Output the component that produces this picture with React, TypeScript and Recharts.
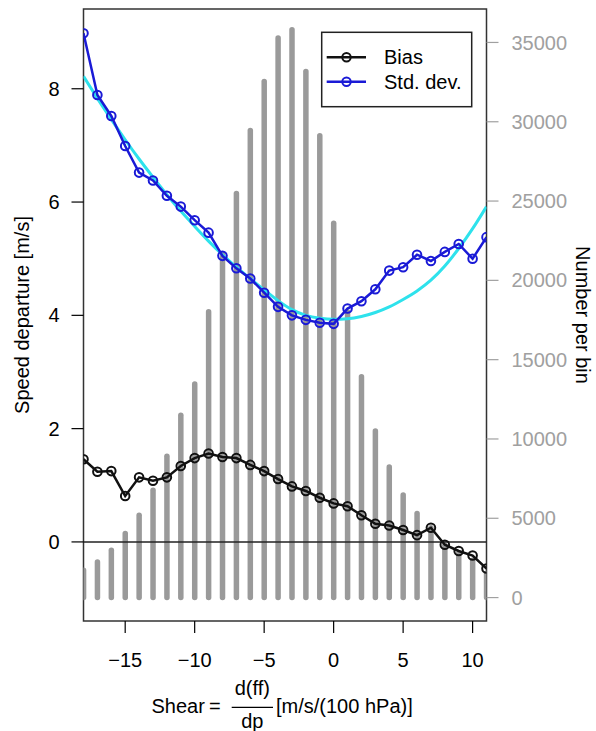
import React from 'react';
import { ComposedChart, Bar, Line, XAxis, YAxis, ReferenceLine, ReferenceArea, Label } from 'recharts';

const shear = [-18, -17, -16, -15, -14, -13, -12, -11, -10, -9, -8, -7, -6, -5, -4, -3, -2, -1, 0, 1, 2, 3, 4, 5, 6, 7, 8, 9, 10, 11];
const countPerBin = [1720, 2250, 2980, 4040, 5190, 6770, 8910, 11500, 13460, 18020, 21670, 25470, 29450, 32540, 35280, 35800, 33170, 29110, 23600, 18000, 13920, 10510, 8240, 6460, 5300, 4400, 3300, 2800, 2350, 1530];
const bias = [1.46, 1.24, 1.25, 0.81, 1.14, 1.08, 1.14, 1.34, 1.48, 1.56, 1.5, 1.48, 1.36, 1.25, 1.11, 0.98, 0.9, 0.78, 0.68, 0.63, 0.47, 0.32, 0.29, 0.21, 0.12, 0.25, -0.05, -0.16, -0.24, -0.47];
const stdDev = [8.98, 7.89, 7.52, 6.99, 6.52, 6.38, 6.11, 5.92, 5.68, 5.46, 5.05, 4.83, 4.65, 4.4, 4.15, 4.0, 3.92, 3.87, 3.85, 4.12, 4.25, 4.46, 4.79, 4.85, 5.07, 4.96, 5.12, 5.26, 5.0, 5.38];
const stdDevFit = [8.22, 7.83, 7.46, 7.1, 6.76, 6.44, 6.13, 5.84, 5.57, 5.31, 5.07, 4.85, 4.65, 4.45, 4.26, 4.1, 4.0, 3.95, 3.93, 3.94, 3.98, 4.05, 4.15, 4.28, 4.43, 4.62, 4.87, 5.18, 5.53, 5.92];

const xTicks = [-15, -10, -5, 0, 5, 10];
const leftTicks = [0, 2, 4, 6, 8];
const rightTicks = [0, 5000, 10000, 15000, 20000, 25000, 30000, 35000];
const legendLabels = ['Bias', 'Std. dev.'];

const data = shear.map((x, i) => ({
  x,
  count: countPerBin[i],
  bias: bias[i],
  sd: stdDev[i],
  fit: stdDevFit[i],
}));

const FONT = '"Liberation Sans", Arial, Helvetica, sans-serif';
const BLACK = '#111111';
const BLUE = '#1a1ad6';
const CYAN = '#2ee2ec';
const GRAY = '#9a9a9a';

const BarShape = (props: any) => {
  const { x, y, width, height } = props;
  if (x == null || y == null) return null;
  const cx = x + width / 2;
  return <line x1={cx} x2={cx} y1={y} y2={y + height} stroke={GRAY} strokeWidth={5.5} strokeLinecap="round" />;
};

const Extras = () => (
  <g fontFamily={FONT} fontSize={20} fill="#000">
    <text x={22} y={315} transform="rotate(-90 22 315)" textAnchor="middle" dominantBaseline="central">
      Speed departure [m/s]
    </text>
    <text x={583} y={315} transform="rotate(90 583 315)" textAnchor="middle" dominantBaseline="central">
      Number per bin
    </text>
    <text x={151.5} y={713}>Shear</text>
    <text x={209} y={713}>=</text>
    <text x={252.3} y={695} textAnchor="middle">d(ff)</text>
    <line x1={231.7} x2={273} y1={707.3} y2={707.3} stroke="#000" strokeWidth={1.3} />
    <text x={252.3} y={728} textAnchor="middle">dp</text>
    <text x={276} y={713}>[m/s/(100 hPa)]</text>
    <rect x={321.7} y={32.3} width={150} height={74.4} fill="#fff" stroke="#222" strokeWidth={1.5} />
    <line x1={326.7} x2={366} y1={57.3} y2={57.3} stroke={BLACK} strokeWidth={2.5} />
    <circle cx={346.5} cy={57.3} r={4.2} fill="none" stroke={BLACK} strokeWidth={2} />
    <text x={384} y={57.3} dominantBaseline="central">{legendLabels[0]}</text>
    <line x1={326.7} x2={366} y1={81.7} y2={81.7} stroke={BLUE} strokeWidth={2.5} />
    <circle cx={346.5} cy={81.7} r={4.2} fill="none" stroke={BLUE} strokeWidth={2} />
    <text x={384} y={81.7} dominantBaseline="central">{legendLabels[1]}</text>
  </g>
);

export default function App() {
  return (
    <div style={{ position: 'absolute', left: 0, top: 0, background: '#fff' }}>
      <ComposedChart width={596} height={731} data={data} margin={{ top: 9, right: 0, bottom: 70, left: 0 }}>
        <XAxis
          type="number"
          dataKey="x"
          domain={[-18, 11]}
          allowDataOverflow
          ticks={xTicks}
          interval={0}
          height={40}
          tickSize={12}
          tickMargin={20}
          axisLine={false}
          tickLine={{ stroke: '#000', strokeWidth: 1.2 }}
          tick={{ fill: '#000', fontSize: 20, fontFamily: FONT }}
          tickFormatter={(v: number) => String(v).replace('-', '\u2212')}
        >
          <Label content={() => <Extras />} />
        </XAxis>
        <YAxis
          yAxisId="L"
          orientation="left"
          domain={[-1.396, 9.408]}
          allowDataOverflow
          ticks={leftTicks}
          interval={0}
          width={83.5}
          tickSize={12}
          tickMargin={12}
          axisLine={false}
          tickLine={{ stroke: '#000', strokeWidth: 1.2 }}
          tick={{ fill: '#000', fontSize: 20, fontFamily: FONT }}
        />
        <YAxis
          yAxisId="R"
          orientation="right"
          domain={[-1477, 37109]}
          allowDataOverflow
          ticks={rightTicks}
          interval={0}
          width={109.5}
          tickSize={12}
          tickMargin={13}
          axisLine={false}
          tickLine={{ stroke: '#a0a0a0', strokeWidth: 1.2 }}
          tick={{ fill: '#a0a0a0', fontSize: 20, fontFamily: FONT }}
        />
        <Bar yAxisId="R" dataKey="count" barSize={6} shape={BarShape} isAnimationActive={false} />
        <ReferenceLine yAxisId="L" y={0} stroke="#222" strokeWidth={1.5} />
        <Line
          yAxisId="L"
          type="linear"
          dataKey="bias"
          stroke={BLACK}
          strokeWidth={2.5}
          dot={{ r: 4.3, stroke: BLACK, strokeWidth: 2, fill: 'none' }}
          activeDot={false}
          isAnimationActive={false}
        />
        <Line
          yAxisId="L"
          type="monotone"
          dataKey="fit"
          stroke={CYAN}
          strokeWidth={3}
          dot={false}
          activeDot={false}
          isAnimationActive={false}
        />
        <Line
          yAxisId="L"
          type="linear"
          dataKey="sd"
          stroke={BLUE}
          strokeWidth={2.5}
          dot={{ r: 4.3, stroke: BLUE, strokeWidth: 2, fill: 'none' }}
          activeDot={false}
          isAnimationActive={false}
        />
        <ReferenceArea
          yAxisId="L"
          x1={-18}
          x2={11}
          y1={-1.396}
          y2={9.408}
          fill="none"
          stroke="#333"
          strokeWidth={1.5}
          ifOverflow="visible"
        />
      </ComposedChart>
    </div>
  );
}
